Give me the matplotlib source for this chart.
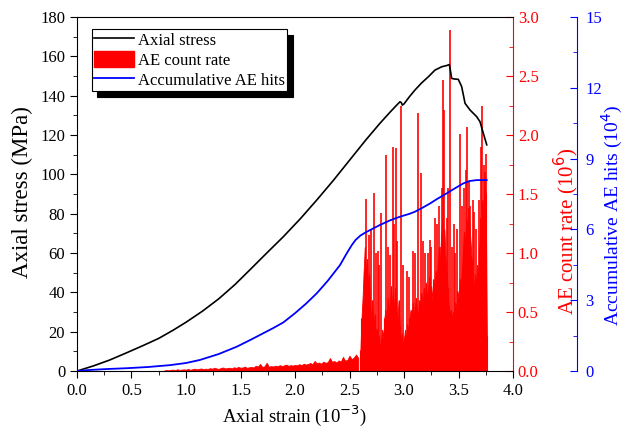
import numpy as np
import matplotlib
matplotlib.use('Agg')
import matplotlib.pyplot as plt
from matplotlib.lines import Line2D
from matplotlib.patches import Patch
from matplotlib.ticker import MultipleLocator, FormatStrFormatter

plt.rcParams['font.family'] = 'Liberation Serif'

# Axial stress curve (strain 10^-3, MPa)
stress_strain = [0.0, 0.15, 0.3, 0.456, 0.6, 0.75, 0.883, 1.0, 1.15, 1.3, 1.45, 1.587,
                 1.75, 1.893, 2.05, 2.199, 2.35, 2.505, 2.65, 2.78, 2.87, 2.933, 2.963,
                 2.975, 2.985, 3.0, 3.05, 3.101, 3.16, 3.223, 3.284, 3.346, 3.39, 3.416,
                 3.425, 3.437, 3.46, 3.498, 3.529, 3.56, 3.606, 3.667, 3.697, 3.728, 3.759]
stress = [0.0, 2.6, 5.6, 9.3, 12.8, 16.6, 20.8, 24.8, 30.4, 36.7, 44.0, 51.5,
          60.5, 68.3, 77.5, 86.9, 96.8, 107.5, 117.5, 126.0, 131.5, 135.2, 136.9,
          136.5, 135.2, 135.8, 139.5, 142.9, 146.4, 149.6, 153.0, 154.7, 155.3, 155.8,
          153.0, 148.8, 148.5, 148.3, 144.6, 136.1, 132.7, 129.3, 126.8, 120.8, 115.0]

# Accumulative AE hits (10^4)
hits_strain = [0.0, 0.1, 0.25, 0.456, 0.65, 0.853, 1.0, 1.128, 1.3, 1.465, 1.587, 1.7,
               1.8, 1.893, 2.0, 2.1, 2.199, 2.3, 2.413, 2.47, 2.52, 2.555, 2.6, 2.65,
               2.7, 2.78, 2.87, 2.963, 3.05, 3.1, 3.17, 3.239, 3.3, 3.392, 3.47, 3.544,
               3.6, 3.667, 3.759]
hits = [0.0, 0.04, 0.08, 0.12, 0.17, 0.25, 0.34, 0.47, 0.72, 1.03, 1.31, 1.58,
        1.82, 2.06, 2.45, 2.85, 3.29, 3.82, 4.49, 4.95, 5.33, 5.55, 5.74, 5.88,
        6.0, 6.19, 6.38, 6.54, 6.66, 6.75, 6.92, 7.1, 7.28, 7.53, 7.75, 7.95,
        8.05, 8.09, 8.09]

# AE count rate (10^6), low-level part: strain 0.80 .. 2.58, step 0.02
ae_low = [0.005, 0.008, 0.006, 0.010, 0.012, 0.008, 0.015, 0.010, 0.012, 0.014,
          0.012, 0.018, 0.010, 0.016, 0.020, 0.014, 0.018, 0.022, 0.015, 0.020,
          0.018, 0.024, 0.020, 0.028, 0.022, 0.018, 0.026, 0.030, 0.022, 0.025,
          0.028, 0.022, 0.032, 0.026, 0.035, 0.028, 0.030, 0.038, 0.026, 0.032,
          0.035, 0.030, 0.045, 0.038, 0.060, 0.034, 0.040, 0.070, 0.036, 0.042,
          0.038, 0.045, 0.040, 0.050, 0.042, 0.048, 0.055, 0.044, 0.050, 0.046,
          0.052, 0.048, 0.058, 0.050, 0.062, 0.055, 0.060, 0.068, 0.058, 0.085,
          0.065, 0.072, 0.062, 0.080, 0.070, 0.075, 0.110, 0.078, 0.085, 0.072,
          0.090, 0.080, 0.120, 0.088, 0.095, 0.130, 0.100, 0.115, 0.140, 0.110]
# active part: strain 2.60 .. 3.76, step 0.01
ae_high = [0.18, 0.45, 0.62, 0.85, 1.05, 0.78, 0.95, 0.70, 0.82, 0.55,
           0.42, 0.60, 0.38, 0.48, 0.30, 0.36, 0.22, 0.30, 0.18, 0.26,
           0.35, 0.28, 0.45, 0.52, 0.40, 0.62, 0.48, 0.58, 0.72, 0.55,
           0.66, 0.48, 0.70, 0.52, 0.45, 0.60, 0.38, 0.25, 0.32, 0.20,
           0.28, 0.35, 0.24, 0.40, 0.33, 0.45, 0.52, 0.42, 0.58, 0.46,
           0.55, 0.62, 0.50, 0.48, 0.60, 0.55, 0.66, 0.52, 0.70, 0.58,
           0.75, 0.62, 0.68, 0.80, 0.65, 0.72, 0.60, 0.78, 0.70, 0.85,
           0.75, 0.92, 1.05, 0.88, 1.15, 1.25, 1.05, 1.20, 0.98, 0.82,
           0.70, 0.55, 0.48, 0.52, 0.44, 0.50, 0.46, 0.58, 0.52, 0.68,
           0.62, 0.78, 0.70, 0.85, 1.00, 1.18, 1.05, 1.30, 1.22, 1.38,
           1.25, 1.10, 0.95, 0.78, 0.68, 0.82, 0.72, 0.90, 0.75, 1.05,
           1.30, 1.20, 1.45, 1.35, 1.60, 1.50, 0.30]
# isolated spikes
spike_strain = [2.648, 2.68, 2.70, 2.728, 2.745, 2.76, 2.775, 2.789, 2.832, 2.85,
                2.87, 2.896, 2.91, 2.923, 2.94, 2.969, 2.99, 3.03, 3.05, 3.08,
                3.10, 3.125, 3.153, 3.17, 3.19, 3.22, 3.239, 3.25, 3.28, 3.30,
                3.32, 3.33, 3.345, 3.355, 3.37, 3.39, 3.40, 3.422, 3.44, 3.46,
                3.47, 3.49, 3.514, 3.53, 3.55, 3.565, 3.581, 3.595, 3.61, 3.63,
                3.64, 3.66, 3.69, 3.706, 3.718, 3.73, 3.743, 3.752]
spike_rate = [1.46, 1.15, 1.20, 1.51, 1.00, 1.02, 0.90, 1.34, 1.83, 1.05,
              0.98, 1.90, 1.25, 1.89, 1.10, 2.25, 0.90, 0.85, 0.80, 1.02,
              1.00, 2.19, 1.68, 1.10, 1.00, 1.00, 1.11, 1.05, 1.30, 1.25,
              1.40, 1.05, 1.55, 2.47, 2.21, 1.30, 1.55, 2.89, 1.05, 1.25,
              1.00, 1.20, 2.01, 1.40, 1.55, 1.70, 2.07, 1.60, 1.40, 1.45,
              1.35, 1.20, 1.45, 1.90, 2.25, 1.75, 1.69, 1.84]

low_x = 0.80 + 0.02 * np.arange(len(ae_low))
high_x = 2.60 + 0.01 * np.arange(len(ae_high))

fig = plt.figure(figsize=(6.27, 4.36), dpi=100)
ax = fig.add_axes([0.1228, 0.149, 0.6954, 0.812])
ax2 = ax.twinx()
ax3 = ax.twinx()

ax2.set_zorder(1)
ax.set_zorder(2)
ax3.set_zorder(3)
ax.patch.set_visible(False)
ax3.patch.set_visible(False)

red = '#ff0000'
blue = '#0000ff'

# AE count rate
ax2.fill_between(low_x, 0, ae_low, color=red, linewidth=0.6)
ax2.fill_between(high_x, 0, ae_high, color=red, linewidth=0.6)
ax2.vlines(high_x, 0, ae_high, color=red, linewidth=0.8)
ax2.vlines(spike_strain, 0, spike_rate, color=red, linewidth=1.2)

# stress
ax.plot(stress_strain, stress, color='black', linewidth=1.2)
# hits
ax3.plot(hits_strain, hits, color=blue, linewidth=1.3)

ax.set_xlim(0, 4.0)
ax.set_ylim(0, 180)
ax2.set_ylim(0, 3.0)
ax3.set_ylim(0, 15)

ax.xaxis.set_major_locator(MultipleLocator(0.5))
ax.xaxis.set_minor_locator(MultipleLocator(0.25))
ax.yaxis.set_major_locator(MultipleLocator(20))
ax.yaxis.set_minor_locator(MultipleLocator(10))
ax2.yaxis.set_major_locator(MultipleLocator(0.5))
ax2.yaxis.set_minor_locator(MultipleLocator(0.25))
ax3.yaxis.set_major_locator(MultipleLocator(3))
ax3.yaxis.set_minor_locator(MultipleLocator(1.5))
ax.xaxis.set_major_formatter(FormatStrFormatter('%.1f'))
ax2.yaxis.set_major_formatter(FormatStrFormatter('%.1f'))

ax.tick_params(which='both', direction='out', labelsize=12, right=False, top=False)
ax.tick_params(which='major', length=5)
ax.tick_params(which='minor', length=3)
ax.spines['right'].set_visible(False)

for a in (ax2, ax3):
    for s in ('left', 'top', 'bottom'):
        a.spines[s].set_visible(False)

ax2.spines['right'].set_color(red)
ax2.tick_params(axis='y', which='both', direction='in', colors=red, labelsize=12)
ax2.tick_params(axis='y', which='major', length=5)
ax2.tick_params(axis='y', which='minor', length=3)

ax3.spines['right'].set_position(('axes', 1.147))
ax3.spines['right'].set_color(blue)
ax3.tick_params(axis='y', which='both', direction='in', colors=blue, labelsize=12, pad=6)
ax3.tick_params(axis='y', which='major', length=5)
ax3.tick_params(axis='y', which='minor', length=3)

ax.set_xlabel('Axial strain (10$^{-3}$)', fontsize=13.5, labelpad=3)
ax.set_ylabel('Axial stress (MPa)', fontsize=16.5)
ax2.set_ylabel('AE count rate (10$^{6}$)', fontsize=15, color=red)
ax3.set_ylabel('Accumulative AE hits (10$^{4}$)', fontsize=14, color=blue)
ax.yaxis.set_label_coords(-0.101, 0.506)
ax2.yaxis.set_label_coords(1.089, 0.393)
ax3.yaxis.set_label_coords(1.2, 0.441)

handles = [Line2D([], [], color='black', linewidth=1.2),
           Patch(facecolor=red, edgecolor=red),
           Line2D([], [], color=blue, linewidth=1.3)]
labels = ['Axial stress', 'AE count rate', 'Accumulative AE hits']
leg = ax3.legend(handles, labels, loc='upper left', bbox_to_anchor=(0.034, 0.966),
                 fontsize=12, frameon=True, fancybox=False, borderpad=0.15,
                 labelspacing=0.12, handlelength=2.4, handleheight=1.1,
                 handletextpad=0.2, borderaxespad=0,
                 shadow={'ox': 4, 'oy': -4, 'color': 'black', 'alpha': 1})
leg.get_frame().set_edgecolor('black')
leg.get_frame().set_linewidth(0.8)

fig.savefig('out.png', dpi=100)
